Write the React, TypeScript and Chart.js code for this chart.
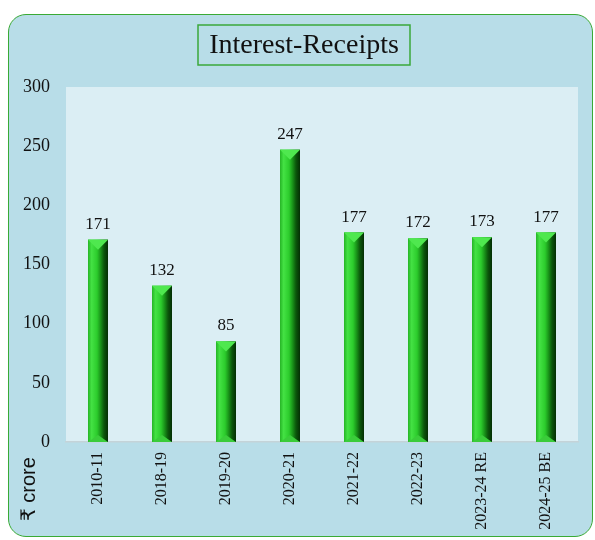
import React, { useEffect, useRef } from "react";
import { Chart, registerables } from "chart.js";

Chart.register(...registerables);

const categories = ["2010-11", "2018-19", "2019-20", "2020-21", "2021-22", "2022-23", "2023-24 RE", "2024-25 BE"];
const receipts = [171, 132, 85, 247, 177, 172, 173, 177];
const yTicks = [0, 50, 100, 150, 200, 250, 300];
const chartTitle = "Interest-Receipts";
const unitLabel = "₹ crore";

const SERIF = '"Liberation Serif", "Times New Roman", serif';

const decorPlugin = {
  id: "decor",
  beforeDraw(chart: any) {
    const { ctx, chartArea } = chart;
    ctx.save();
    ctx.fillStyle = "#dbeef4";
    ctx.fillRect(chartArea.left, chartArea.top, chartArea.right - chartArea.left, chartArea.bottom - chartArea.top);
    ctx.restore();
  },
  afterDatasetsDraw(chart: any) {
    const { ctx } = chart;
    const meta = chart.getDatasetMeta(0);
    const values = chart.data.datasets[0].data;
    ctx.save();
    meta.data.forEach((el: any, i: number) => {
      const { x, y, base, width } = el.getProps(["x", "y", "base", "width"], true);
      const xL = x - width / 2;
      const xR = x + width / 2;
      const top = y;
      const bot = base;
      const g = ctx.createLinearGradient(xL, 0, xR, 0);
      g.addColorStop(0, "#26b426");
      g.addColorStop(0.18, "#44e244");
      g.addColorStop(0.45, "#2ccc2c");
      g.addColorStop(0.62, "#1a961a");
      g.addColorStop(0.8, "#0b560b");
      g.addColorStop(1, "#042e04");
      ctx.fillStyle = g;
      ctx.fillRect(xL, top, width, bot - top);
      const b = width / 2;
      // top bevel
      ctx.beginPath();
      ctx.moveTo(xL, top);
      ctx.lineTo(xR, top);
      ctx.lineTo(x, top + b);
      ctx.closePath();
      ctx.fillStyle = "#4fe84f";
      ctx.fill();
      // bottom bevel
      ctx.beginPath();
      ctx.moveTo(xL, bot);
      ctx.lineTo(xR, bot);
      ctx.lineTo(x, bot - b * 0.7);
      ctx.closePath();
      ctx.fillStyle = "#3acc3a";
      ctx.fill();
      // value label
      ctx.fillStyle = "#111111";
      ctx.font = `17px ${SERIF}`;
      ctx.textAlign = "center";
      ctx.textBaseline = "bottom";
      ctx.fillText(String(values[i]), x, top - 7);
    });
    ctx.restore();
  },
  afterDraw(chart: any) {
    const { ctx } = chart;
    ctx.save();
    // title box
    ctx.font = `28px ${SERIF}`;
    const cx = 304;
    const cy = 45;
    const bw = 212;
    const bh = 40;
    ctx.strokeStyle = "#3aa83a";
    ctx.lineWidth = 1.5;
    ctx.strokeRect(cx - bw / 2, cy - bh / 2, bw, bh);
    ctx.fillStyle = "#111111";
    ctx.textAlign = "center";
    ctx.textBaseline = "middle";
    ctx.fillText(chartTitle, cx, cy + 1);
    // unit label
    ctx.translate(29, 521);
    ctx.rotate(-Math.PI / 2);
    ctx.font = '20px "Liberation Sans", "DejaVu Sans", "Noto Sans", sans-serif';
    ctx.textAlign = "left";
    ctx.textBaseline = "middle";
    ctx.fillText(unitLabel, 0, 0);
    ctx.restore();
  },
};

export default function App() {
  const canvasRef = useRef<HTMLCanvasElement | null>(null);

  useEffect(() => {
    if (!canvasRef.current) return;
    const chart = new Chart(canvasRef.current, {
      type: "bar",
      data: {
        labels: categories,
        datasets: [
          {
            data: receipts,
            backgroundColor: "#2fcf2f",
            borderWidth: 0,
            barPercentage: 0.3125,
            categoryPercentage: 1,
          },
        ],
      },
      options: {
        responsive: false,
        animation: false,
        devicePixelRatio: 1,
        layout: { padding: { left: 0, top: 87, right: 17, bottom: 0 } },
        plugins: {
          legend: { display: false },
          tooltip: { enabled: false },
          title: { display: false },
        },
        scales: {
          x: {
            grid: { display: false, drawTicks: false },
            border: { display: true, color: "#c4d3d8", width: 1.5 },
            ticks: {
              minRotation: 90,
              maxRotation: 90,
              padding: 10,
              color: "#111111",
              font: { family: SERIF, size: 16 },
            },
            afterFit(scale: any) {
              scale.height = 98;
            },
          },
          y: {
            min: 0,
            max: 300,
            afterBuildTicks(scale: any) {
              scale.ticks = yTicks.map((v) => ({ value: v }));
            },
            grid: { display: false, drawTicks: false },
            border: { display: false },
            ticks: {
              padding: 16,
              color: "#111111",
              font: { family: SERIF, size: 18 },
            },
            afterFit(scale: any) {
              scale.width = 66;
            },
          },
        },
      },
      plugins: [decorPlugin],
    });
    return () => chart.destroy();
  }, []);

  return (
    <div style={{ position: "fixed", left: 0, top: 0, width: 595, height: 540, overflow: "hidden", background: "#ffffff" }}>
      <div
        style={{
          position: "absolute",
          left: 8,
          top: 14,
          width: 585,
          height: 523,
          boxSizing: "border-box",
          border: "1.5px solid #3aaa35",
          borderRadius: 18,
          background: "#b8dde8",
        }}
      />
      <canvas ref={canvasRef} width={595} height={540} style={{ position: "absolute", left: 0, top: 0, width: 595, height: 540 }} />
    </div>
  );
}
